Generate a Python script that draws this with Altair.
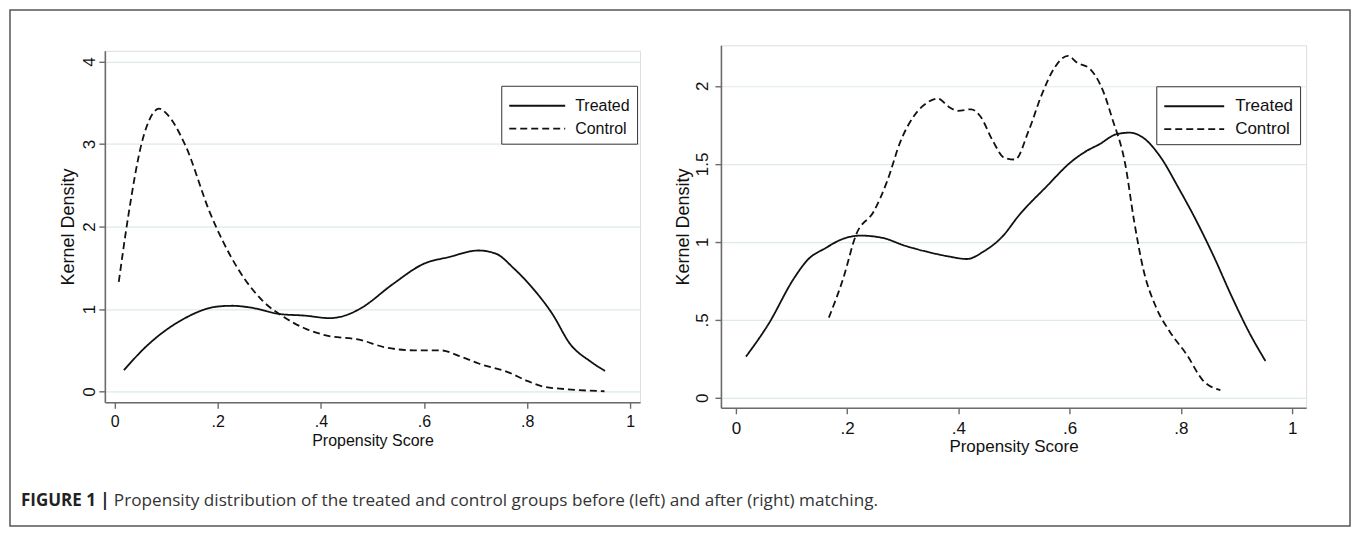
import altair as alt
import pandas as pd

FONT = "Liberation Sans, Arial, Helvetica, sans-serif"
FONT_CAP = "Open Sans, Liberation Sans, sans-serif"

# ---------------- Left panel: before matching ----------------
left_treated_x = [0.018, 0.06, 0.128, 0.199, 0.228, 0.262, 0.32, 0.37, 0.417, 0.455, 0.48,
                  0.539, 0.60, 0.648, 0.706, 0.74, 0.773, 0.807, 0.849, 0.883, 0.924, 0.951]
left_treated_y = [0.26, 0.54, 0.86, 1.03, 1.04, 1.02, 0.94, 0.92, 0.89, 0.94, 1.02,
                  1.30, 1.55, 1.63, 1.71, 1.67, 1.50, 1.28, 0.94, 0.58, 0.36, 0.25]
left_control_x = [0.008, 0.027, 0.052, 0.073, 0.086, 0.102, 0.136, 0.186, 0.237, 0.287, 0.329,
                  0.371, 0.404, 0.48, 0.522, 0.58, 0.631, 0.673, 0.706, 0.765, 0.80, 0.832,
                  0.874, 0.95]
left_control_y = [1.33, 2.15, 3.0, 3.36, 3.43, 3.36, 3.0, 2.15, 1.51, 1.10, 0.90,
                  0.76, 0.69, 0.62, 0.54, 0.50, 0.50, 0.42, 0.34, 0.23, 0.13, 0.06,
                  0.03, 0.004]

# ---------------- Right panel: after matching ----------------
right_treated_x = [0.018, 0.058, 0.105, 0.129, 0.161, 0.193, 0.224, 0.264, 0.304, 0.351, 0.383,
                   0.415, 0.446, 0.478, 0.51, 0.557, 0.605, 0.629, 0.653, 0.684, 0.708, 0.732,
                   0.764, 0.795, 0.827, 0.859, 0.89, 0.922, 0.952]
right_treated_y = [0.264, 0.47, 0.77, 0.885, 0.96, 1.02, 1.04, 1.025, 0.975, 0.93, 0.906,
                   0.89, 0.94, 1.03, 1.175, 1.35, 1.52, 1.58, 1.625, 1.69, 1.70, 1.668,
                   1.54, 1.35, 1.14, 0.907, 0.66, 0.424, 0.236]
right_control_x = [0.167, 0.193, 0.216, 0.248, 0.272, 0.296, 0.32, 0.344, 0.363, 0.383, 0.399,
                   0.423, 0.439, 0.462, 0.482, 0.502, 0.526, 0.55, 0.573, 0.597, 0.613, 0.637,
                   0.66, 0.676, 0.70, 0.716, 0.732, 0.756, 0.78, 0.811, 0.839, 0.871]
right_control_y = [0.514, 0.767, 1.046, 1.196, 1.39, 1.646, 1.807, 1.893, 1.918, 1.865, 1.84,
                   1.85, 1.807, 1.646, 1.54, 1.528, 1.71, 1.946, 2.118, 2.193, 2.15, 2.107,
                   1.968, 1.796, 1.496, 1.13, 0.83, 0.575, 0.424, 0.274, 0.114, 0.05]

groups = ["Treated", "Control"]
x_ticks = [0, 0.2, 0.4, 0.6, 0.8, 1]
left_y_ticks = [0, 1, 2, 3, 4]
right_y_ticks = [0, 0.5, 1, 1.5, 2]

caption_bold = "FIGURE 1 |"
caption_text = "Propensity distribution of the treated and control groups before (left) and after (right) matching."
x_title = "Propensity Score"
y_title = "Kernel Density"


def make_df(tx, ty, cx, cy):
    return pd.DataFrame({
        "score": tx + cx,
        "density": ty + cy,
        "group": ["Treated"] * len(tx) + ["Control"] * len(cx),
        "order": list(range(len(tx))) + list(range(len(cx))),
    })


LABEL_EXPR = "replace(format(datum.value, '~g'), '0.', '.')"


def panel(df, xdom, ydom, yticks, xfs, yfs, ytfs, legfs, sym_path, lab_off, legx, legy,
          xlab_pad, xtitle_pad, ylab_pad, ytitle_pad):
    x_axis = alt.Axis(values=x_ticks, labelExpr=LABEL_EXPR, grid=False, title=x_title,
                      domainColor="#6b6b6b", domainWidth=1.6, tickColor="#6b6b6b", tickWidth=1.4,
                      tickSize=6, labelFont=FONT, labelFontSize=xfs, labelColor="#111111",
                      labelPadding=xlab_pad, titleFont=FONT, titleFontSize=xfs, titleFontWeight="normal",
                      titleColor="#111111", titlePadding=xtitle_pad)
    y_axis = alt.Axis(values=yticks, labelExpr=LABEL_EXPR, grid=True, gridColor="#dde9ec",
                      gridWidth=1.2, title=y_title, labelAngle=270,
                      domainColor="#6b6b6b", domainWidth=1.6, tickColor="#6b6b6b", tickWidth=1.4,
                      tickSize=6, labelFont=FONT, labelFontSize=yfs, labelColor="#111111",
                      labelPadding=ylab_pad, titleFont=FONT, titleFontSize=ytfs, titleFontWeight="normal",
                      titleColor="#111111", titlePadding=ytitle_pad)
    return alt.Chart(df).mark_line(color="#111111", strokeWidth=1.8, interpolate="monotone").encode(
        x=alt.X("score:Q", scale=alt.Scale(domain=xdom, nice=False, zero=False), axis=x_axis),
        y=alt.Y("density:Q", scale=alt.Scale(domain=ydom, nice=False, zero=False), axis=y_axis),
        strokeDash=alt.StrokeDash(
            "group:N",
            scale=alt.Scale(domain=groups, range=[[1, 0], [7, 4]]),
            legend=alt.Legend(title=None, orient="none", legendX=legx, legendY=legy,
                              symbolType=sym_path, symbolSize=576, symbolStrokeWidth=1.8,
                              symbolStrokeColor="#111111", symbolFillColor="transparent",
                              labelFont=FONT, labelFontSize=legfs, labelColor="#111111",
                              labelOffset=lab_off, strokeColor="#333333", fillColor="white",
                              padding=7, rowPadding=2),
        ),
        order="order:Q",
    )


left_df = make_df(left_treated_x, left_treated_y, left_control_x, left_control_y)
right_df = make_df(right_treated_x, right_treated_y, right_control_x, right_control_y)

left_lines = panel(left_df, [-0.019, 1.019], [-0.13, 4.13], left_y_ticks, 16, 17, 18, 16,
                   "M-1,0H3.67", 41, 397, 35, 5, 3, 0, 3)
right_lines = panel(right_df, [-0.027, 1.025], [-0.064, 2.26], right_y_ticks, 17, 17, 18, 17,
                    "M-1,0H4", 46, 436, 41, 7, 2, 3, 1)

one = pd.DataFrame({"k": [0]})
border = alt.Chart(one).mark_rect(fill="white", fillOpacity=0, stroke="#555555", strokeWidth=1.5).encode(
    x=alt.value(-95), x2=alt.value(1247), y=alt.value(-41), y2=alt.value(476)
)
cap_df = pd.DataFrame({"bold": [caption_bold], "text": [caption_text]})
cap_bold = alt.Chart(cap_df).mark_text(font=FONT_CAP, fontSize=17, fontWeight="bold", align="left",
                                       baseline="middle", color="#222222").encode(
    text="bold:N", x=alt.value(-84), y=alt.value(451)
)
cap_reg = alt.Chart(cap_df).mark_text(font=FONT_CAP, fontSize=17.2, align="left",
                                      baseline="middle", color="#333333").encode(
    text="text:N", x=alt.value(9), y=alt.value(451)
)

left = alt.layer(border, left_lines, cap_bold, cap_reg).properties(width=536, height=352)
right = alt.layer(right_lines).properties(width=586, height=363)

chart = alt.hconcat(left, right, spacing=81, bounds="flush", center=True, padding=0).resolve_scale(
    strokeDash="independent"
).resolve_legend(strokeDash="independent").configure_view(stroke=None).configure(background="white")

chart.save("out.html", embed_options={"renderer": "svg", "actions": False})
